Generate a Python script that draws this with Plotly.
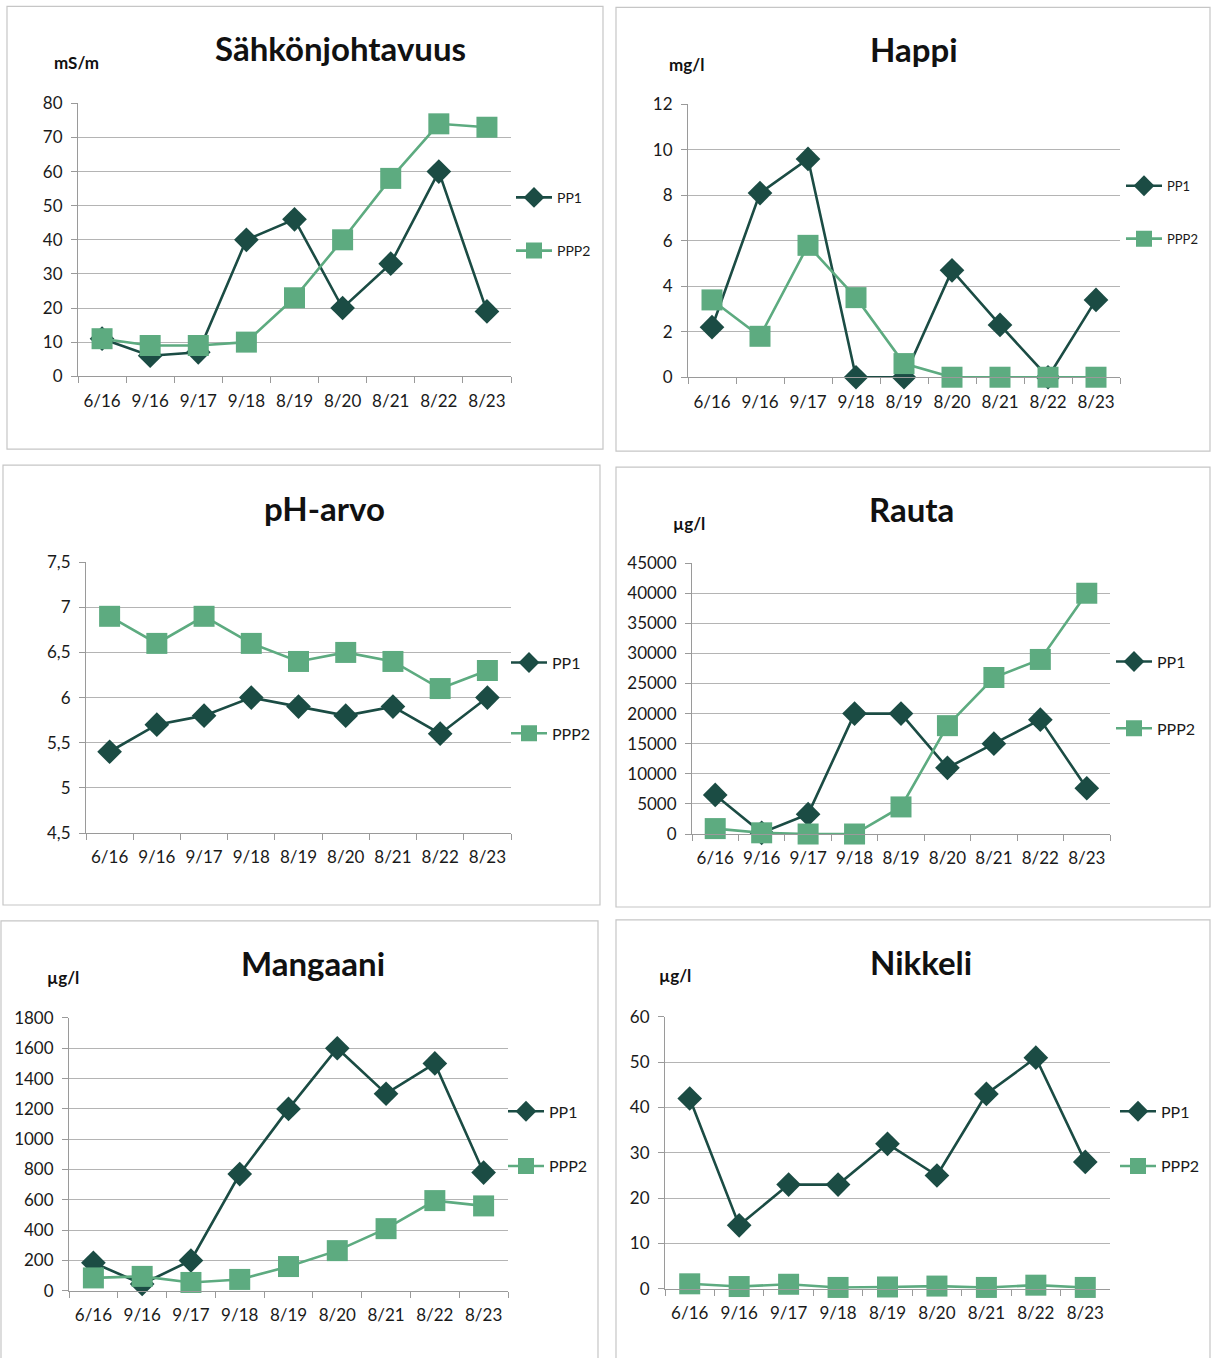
import plotly.graph_objects as go

# Sampling dates (category labels on the x axis)
dates = ["6/16", "9/16", "9/17", "9/18", "8/19", "8/20", "8/21", "8/22", "8/23"]

# Measured values for the two sampling points
sahko_pp1 = [11, 6, 7, 40, 46, 20, 33, 60, 19]
sahko_ppp2 = [11, 9, 9, 10, 23, 40, 58, 74, 73]
happi_pp1 = [2.2, 8.1, 9.6, 0, 0, 4.7, 2.3, 0, 3.4]
happi_ppp2 = [3.4, 1.8, 5.8, 3.5, 0.6, 0, 0, 0, 0]
ph_pp1 = [5.4, 5.7, 5.8, 6.0, 5.9, 5.8, 5.9, 5.6, 6.0]
ph_ppp2 = [6.9, 6.6, 6.9, 6.6, 6.4, 6.5, 6.4, 6.1, 6.3]
rauta_pp1 = [6500, 200, 3300, 20000, 20000, 11000, 15000, 19000, 7600]
rauta_ppp2 = [900, 200, 0, 0, 4500, 18000, 26000, 29000, 40000]
mangaani_pp1 = [185, 45, 200, 770, 1200, 1600, 1300, 1500, 780]
mangaani_ppp2 = [85, 95, 55, 75, 160, 265, 410, 595, 560]
nikkeli_pp1 = [42, 14, 23, 23, 32, 25, 43, 51, 28]
nikkeli_ppp2 = [1.1, 0.5, 1.0, 0.3, 0.4, 0.6, 0.3, 0.8, 0.3]

series_names = ["PP1", "PPP2"]
titles = ["Sähkönjohtavuus", "Happi", "pH-arvo", "Rauta", "Mangaani", "Nikkeli"]
units = ["mS/m", "mg/l", "", "µg/l", "µg/l", "µg/l"]

W, H = 1216, 1358
FONT = "Lato, 'Open Sans', sans-serif"
DARK = "#1b4c44"
LIGHT = "#5dab80"
GRID = "#b4b4b4"
AXIS = "#9a9a9a"
BOX = "#c6c6c6"
TEXT = "#1a1a1a"

# vertical placement: offset and scale applied to page-pixel positions
Y_OFF, Y_SCALE = 10.6, 0.985


def px(x):
    return x / W


def py(y):
    return 1 - ((y - Y_OFF) / Y_SCALE) / H


# Pixel layout of each panel: plot area, frame, title, unit label, legend
panels = [
    dict(data=(sahko_pp1, sahko_ppp2), yr=(0, 80), dt=10, fmt="d",
         plot=(78, 511, 103, 376), box=(7, 603, 6, 449),
         title=(340, 48), unit=(76, 62), leg=(511, 224), legfs=14, gap=32),
    dict(data=(happi_pp1, happi_ppp2), yr=(0, 12), dt=2, fmt="d",
         plot=(688, 1120, 104, 377), box=(616, 1210, 7, 451),
         title=(914, 49), unit=(686, 64), leg=(1121, 212), legfs=13, gap=33),
    dict(data=(ph_pp1, ph_ppp2), yr=(4.5, 7.5), dt=0.5, fmt="",
         plot=(86, 511, 562, 833), box=(3, 600, 465, 905),
         title=(324, 508), unit=(0, 0), leg=(506, 698), legfs=16, gap=47),
    dict(data=(rauta_pp1, rauta_ppp2), yr=(0, 45000), dt=5000, fmt="d",
         plot=(692, 1110, 563, 834), box=(616, 1210, 467, 907),
         title=(911, 509), unit=(689, 523), leg=(1111, 695), legfs=16, gap=43),
    dict(data=(mangaani_pp1, mangaani_ppp2), yr=(0, 1800), dt=200, fmt="d",
         plot=(69, 508, 1018, 1291), box=(1, 598, 921, 1370),
         title=(313, 963), unit=(63, 978), leg=(503, 1139), legfs=16, gap=31),
    dict(data=(nikkeli_pp1, nikkeli_ppp2), yr=(0, 60), dt=10, fmt="d",
         plot=(665, 1110, 1017, 1289), box=(616, 1210, 920, 1370),
         title=(921, 962), unit=(675, 976), leg=(1115, 1139), legfs=16, gap=31),
]

fig = go.Figure()
layout = dict(
    width=W, height=H, margin=dict(l=0, r=0, t=0, b=0),
    paper_bgcolor="white", plot_bgcolor="white",
    font=dict(family=FONT, size=17, color=TEXT),
    separators=",.",
    showlegend=True,
    shapes=[], annotations=[],
)

for i, p in enumerate(panels):
    n = "" if i == 0 else str(i + 1)
    legname = "legend" + n
    x0, x1, y0, y1 = p["plot"]
    for k, (vals, name) in enumerate(zip(p["data"], series_names)):
        dark = k == 0
        fig.add_trace(go.Scatter(
            x=dates, y=vals, name=name, mode="lines+markers",
            xaxis="x" + n, yaxis="y" + n, legend=legname,
            legendgroup=f"{i}-{name}",
            line=dict(color=DARK if dark else LIGHT, width=2.6),
            marker=dict(symbol="diamond" if dark else "square",
                        size=19 if dark else 21,
                        color=DARK if dark else LIGHT,
                        line=dict(width=0)),
            cliponaxis=False, hoverinfo="x+y+name",
        ))
    layout["xaxis" + n] = dict(
        domain=[px(x0), px(x1)], anchor="y" + n, type="category",
        range=[-0.5, 8.5], tickson="boundaries", ticks="outside",
        ticklen=6, tickcolor=AXIS, showline=True, linecolor=AXIS,
        linewidth=1, showgrid=False, zeroline=False, ticklabelstandoff=9,
        tickfont=dict(size=17, color=TEXT), fixedrange=True,
    )
    ya = dict(
        domain=[py(y1), py(y0)], anchor="x" + n, range=list(p["yr"]),
        dtick=p["dt"], tick0=p["yr"][0], ticks="outside", ticklen=6,
        tickcolor=AXIS, showline=True, linecolor=AXIS, linewidth=1,
        showgrid=True, gridcolor=GRID, gridwidth=1, zeroline=False,
        ticklabelstandoff=5,
        tickfont=dict(size=17, color=TEXT), fixedrange=True,
    )
    if p["fmt"]:
        ya["tickformat"] = p["fmt"]
    layout["yaxis" + n] = ya

    lx, ly = p["leg"]
    layout[legname] = dict(
        x=px(lx), y=py(ly), xanchor="left", yanchor="middle",
        bgcolor="rgba(0,0,0,0)", borderwidth=0,
        font=dict(size=p["legfs"], color=TEXT, family=FONT),
        tracegroupgap=p["gap"], traceorder="grouped", itemwidth=36,
    )

    bx0, bx1, by0, by1 = p["box"]
    layout["shapes"].append(dict(
        type="rect", xref="paper", yref="paper", layer="below",
        x0=px(bx0), x1=px(bx1), y0=py(by1), y1=py(by0),
        line=dict(color=BOX, width=1.2), fillcolor="rgba(0,0,0,0)",
    ))
    tx, ty = p["title"]
    layout["annotations"].append(dict(
        text="<b>" + titles[i] + "</b>", x=px(tx), y=py(ty), xref="paper",
        yref="paper", showarrow=False, xanchor="center", yanchor="middle",
        font=dict(size=33, color="#111111", family=FONT),
    ))
    if units[i]:
        ux, uy = p["unit"]
        layout["annotations"].append(dict(
            text="<b>" + units[i] + "</b>", x=px(ux), y=py(uy), xref="paper",
            yref="paper", showarrow=False, xanchor="center", yanchor="middle",
            font=dict(size=17, color="#111111", family=FONT),
        ))

fig.update_layout(**layout)
# Full-bleed page: the figure fills the window exactly
fig.write_html(
    "out.html",
    post_script="document.body.style.margin='0';"
                "document.body.style.overflow='hidden';",
)
